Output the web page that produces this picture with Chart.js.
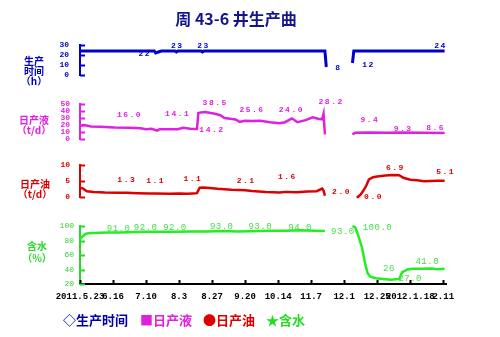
<!DOCTYPE html>
<html>
<head>
<meta charset="utf-8">
<title>周 43-6 井生产曲线</title>
<script src="https://cdn.jsdelivr.net/npm/chart.js@4.4.0/dist/chart.umd.min.js"></script>
<style>
  body { margin: 0; background: #fff; }
  #wrap { position: relative; width: 500px; height: 337px; }
  #wrap canvas { position: absolute; left: 0; top: 0; }
</style>
</head>
<body>
<div id="wrap">
  <canvas id="cHoras" width="500" height="337"></canvas>
  <canvas id="cLiquido" width="500" height="337"></canvas>
  <canvas id="cAceite" width="500" height="337"></canvas>
  <canvas id="cAgua" width="500" height="337"></canvas>
</div>
<script>
// x = dias desde 2011.5.23, una marca cada 24 dias
var dateTicks = ['2011.5.23', '6.16', '7.10', '8.3', '8.27', '9.20', '10.14', '11.7', '12.1', '12.25', '2012.1.18', '2.11'];
var tickStep = 24;

// 生产时间 (h)
var hourDays   = [0, 54, 55, 57, 59, 69, 70, 71, 88, 89, 90, 178, 179, 188, 198, 199, 265];
var hourValues = [24, 24, 22, 23, 24, 24, 23, 24, 24, 23, 24, 24, 8, null, 12, 24, 24];
var hourLabelDays = [55, 70, 89, 179, 198, 265];

// 日产液 (t/d)
var liqDays   = [0, 3, 8, 15, 25, 36, 44, 48, 52, 56, 58, 65, 71, 75, 80, 85, 86, 88, 91, 98, 102, 105, 109, 113, 116, 120, 125, 131, 138, 145, 149, 154, 158, 164, 169, 173, 176, 177, 178, 188, 198, 200, 210, 225, 232, 250, 265];
var liqValues = [19, 20, 18, 17.5, 16.5, 16.0, 15.5, 14, 14.5, 12, 14, 14, 14.1, 16, 14.5, 14.2, 37, 38, 38.5, 36, 34, 30, 29, 28, 24.5, 26, 25.6, 26, 24, 22.5, 24, 29.5, 24.0, 27, 31, 29, 28.2, 36, 6.6, null, 6.6, 9, 9.4, 9, 9.3, 9, 8.6];
var liqLabelDays = [36, 71, 85, 91, 125, 158, 176, 210, 232, 265];

// 日产油 (t/d)
var oilDays   = [0, 2, 5, 10, 18, 28, 34, 42, 50, 55, 65, 72, 78, 82, 85, 87, 90, 100, 110, 120, 125, 135, 145, 150, 158, 165, 172, 176, 177, 178, 188, 201, 202, 204, 206, 208, 210, 213, 216, 222, 227, 232, 235, 240, 245, 250, 255, 260, 265];
var oilValues = [2.8, 2.7, 1.8, 1.6, 1.4, 1.3, 1.3, 1.2, 1.1, 1.1, 1.0, 1.1, 1.0, 1.1, 1.2, 2.9, 3.0, 2.6, 2.3, 2.1, 1.9, 1.6, 1.4, 1.6, 1.5, 1.7, 1.8, 2.6, 2.0, 0.4, null, 0.0, 0.0, 0.8, 2.0, 3.5, 5.5, 6.2, 6.4, 6.7, 6.9, 6.8, 6.0, 5.4, 5.2, 4.9, 5.0, 5.1, 5.1];
var oilLabelDays = [34, 55, 82, 120, 150, 177, 201, 227, 265];

// 含水 (%)
var waterDays   = [0, 2, 4, 6, 10, 20, 28, 36, 47, 55, 69, 80, 92, 103, 115, 131, 138, 150, 160, 170, 178, 188, 198, 200, 202, 205, 207, 209, 211, 215, 220, 226, 232, 234, 238, 242, 248, 255, 260, 265];
var waterValues = [82, 86, 89, 90, 90.5, 91, 91.0, 91.5, 92.0, 92, 92.0, 92.5, 92.5, 93.0, 92.5, 93.0, 93.5, 93.5, 94.0, 93.5, 93.0, null, 100.0, 98, 88, 70, 50, 35, 30, 28, 27, 26, 27.0, 36, 40, 41, 41.0, 41.5, 40.5, 41];
var waterLabelDays = [28, 47, 69, 103, 131, 160, 178, 198, 226, 232, 248];

// desplazamiento de cada etiqueta respecto a su punto [dx, dy]
var hourLabelPos  = [[-11, 1], [1, -6], [1, -6], [12, 1], [16, 2], [-4, -5]];
var liqLabelPos   = [[0, -13], [0, -15], [15, 1], [10, -9], [0, -11], [-6, -12], [9, -17], [1, -12], [4, -4], [-9, -5]];
var oilLabelPos   = [[0, -13], [0, -12], [0, -14], [1, -9], [1, -15], [18, 1], [17, 0], [3, -7], [1, -9]];
var waterLabelPos = [[0, -4], [1, -4], [0, -4], [0, -4], [0, -4], [0, -3], [18, 1], [25, 2], [-2, -11], [11, 0], [6, -7]];

var MONO = '"Liberation Mono", "DejaVu Sans Mono", monospace';
var CJK = '"Noto Sans CJK SC", "Noto Sans", sans-serif';

function toPoints(days, values) {
    return days.map(function(d, i) { return { x: d, y: values[i] }; });
}

// marcas cortas hacia dentro en cada eje
var innerTicks = {
    id: 'innerTicks',
    afterDraw: function(chart) {
        var c = chart.ctx;
        Object.keys(chart.scales).forEach(function(k) {
            var s = chart.scales[k];
            if (!s.options.display) return;
            c.save();
            c.strokeStyle = s.options.border.color;
            c.lineWidth = 2;
            s.ticks.forEach(function(t) {
                var p = Math.round(s.getPixelForValue(t.value)) + 0.5;
                c.beginPath();
                if (s.axis === 'y') { c.moveTo(s.right, p); c.lineTo(s.right + 5, p); }
                else { c.moveTo(p, s.top); c.lineTo(p, s.top - 4); }
                c.stroke();
            });
            c.restore();
        });
    }
};

// etiquetas de valor sobre los puntos marcados
var valueLabels = {
    id: 'valueLabels',
    afterDatasetsDraw: function(chart, args, opts) {
        if (!opts.days) return;
        var c = chart.ctx;
        var ds = chart.data.datasets[0];
        var meta = chart.getDatasetMeta(0);
        c.save();
        c.fillStyle = opts.color;
        c.font = opts.font;
        if ('letterSpacing' in c) c.letterSpacing = opts.spacing || '0px';
        c.textAlign = 'center';
        c.textBaseline = 'middle';
        opts.days.forEach(function(d, i) {
            var idx = ds.data.findIndex(function(p) { return p.x === d; });
            if (idx < 0) return;
            var el = meta.data[idx];
            var v = ds.data[idx].y;
            var dec = (opts.intText && opts.intText.indexOf(d) >= 0) ? 0 : opts.dec;
            var off = opts.pos[i] || [0, 0];
            c.fillText(v.toFixed(dec), el.x + off[0], el.y + off[1]);
        });
        c.restore();
    }
};

// titulo, nombres de ejes y leyenda
var decor = {
    id: 'decor',
    afterDraw: function(chart) {
        var c = chart.ctx;
        c.save();
        c.textBaseline = 'middle';
        c.textAlign = 'center';
        c.fillStyle = '#14148c';
        c.font = 'bold 16px ' + CJK;
        c.fillText('周 43-6 井生产曲', 236, 19);

        c.font = 'bold 10px ' + CJK;
        c.fillStyle = '#0000cc';
        c.fillText('生产', 34, 61);
        c.fillText('时间', 34, 71);
        c.fillText('（h）', 34, 81);
        c.fillStyle = '#e020e0';
        c.fillText('日产液', 34, 120);
        c.fillText('（t/d）', 34, 130);
        c.fillStyle = '#dd0000';
        c.fillText('日产油', 35, 184);
        c.fillText('（t/d）', 35, 194);
        c.fillStyle = '#22dd22';
        c.fillText('含水', 37, 246);
        c.fillText('（%）', 37, 258);

        c.textAlign = 'left';
        c.font = 'bold 13px ' + CJK;
        c.fillStyle = '#0000aa';
        c.fillText('◇生产时间', 63, 320);
        c.fillStyle = '#e020e0';
        c.fillText('■日产液', 140, 320);
        c.fillStyle = '#dd0000';
        c.fillText('●日产油', 203, 320);
        c.fillStyle = '#22dd22';
        c.fillText('★含水', 266, 320);
        c.restore();
    }
};

function makePanel(id, cfg) {
    var ctx = document.getElementById(id).getContext('2d');
    return new Chart(ctx, {
        type: 'line',
        data: {
            datasets: [{
                data: toPoints(cfg.days, cfg.values),
                borderColor: cfg.color,
                borderWidth: cfg.lineWidth,
                pointRadius: 0,
                tension: 0,
                spanGaps: false,
                clip: false
            }]
        },
        options: {
            responsive: false,
            animation: false,
            layout: { padding: { left: 0, right: 54, top: cfg.top, bottom: cfg.bottom } },
            plugins: {
                legend: { display: false },
                tooltip: { enabled: false },
                valueLabels: cfg.labels
            },
            scales: {
                x: {
                    type: 'linear',
                    min: 0,
                    max: 266,
                    display: cfg.showX,
                    border: { color: '#000', width: 2 },
                    grid: { display: false, drawTicks: false },
                    afterBuildTicks: function(s) {
                        s.ticks = dateTicks.map(function(t, i) { return { value: i * tickStep }; });
                    },
                    afterFit: function(s) { s.height = 20; },
                    ticks: {
                        autoSkip: false,
                        maxRotation: 0,
                        padding: 7,
                        color: '#000',
                        font: { family: MONO, size: 9, weight: 'bold' },
                        callback: function(v, i) { return dateTicks[i]; }
                    }
                },
                y: {
                    min: cfg.min,
                    max: cfg.max,
                    border: { color: cfg.axisColor, width: 2 },
                    grid: { display: false, drawTicks: false },
                    afterFit: function(s) { s.width = 80; },
                    ticks: {
                        autoSkip: false,
                        stepSize: cfg.step,
                        padding: cfg.tickPad,
                        color: cfg.tickColor,
                        font: cfg.tickFont
                    }
                }
            }
        },
        plugins: cfg.extra ? [innerTicks, valueLabels, cfg.extra] : [innerTicks, valueLabels]
    });
}

var boldTick = { family: MONO, size: 8, weight: 'bold' };

var chartHoras = makePanel('cHoras', {
    days: hourDays, values: hourValues, color: '#0000cc', lineWidth: 3,
    top: 45, bottom: 337 - 95, showX: false,
    min: 0, max: 30, step: 10, axisColor: '#0000cc', tickColor: '#0000cc', tickPad: 11, tickFont: boldTick,
    labels: { days: hourLabelDays, pos: hourLabelPos, dec: 0, color: '#0000cc', font: 'bold 8px ' + MONO, spacing: '1.5px' }
});

var chartLiquido = makePanel('cLiquido', {
    days: liqDays, values: liqValues, color: '#e020e0', lineWidth: 2.5,
    top: 104, bottom: 337 - 159, showX: false,
    min: 0, max: 50, step: 10, axisColor: '#e020e0', tickColor: '#e020e0', tickPad: 10, tickFont: boldTick,
    labels: { days: liqLabelDays, pos: liqLabelPos, dec: 1, color: '#e020e0', font: 'bold 8px ' + MONO, spacing: '1.5px' }
});

var chartAceite = makePanel('cAceite', {
    days: oilDays, values: oilValues, color: '#dd0000', lineWidth: 2.5,
    top: 165, bottom: 337 - 217, showX: false,
    min: 0, max: 10, step: 5, axisColor: '#dd0000', tickColor: '#dd0000', tickPad: 10, tickFont: boldTick,
    labels: { days: oilLabelDays, pos: oilLabelPos, dec: 1, color: '#dd0000', font: 'bold 8px ' + MONO, spacing: '1.5px' }
});

var chartAgua = makePanel('cAgua', {
    days: waterDays, values: waterValues, color: '#22ee22', lineWidth: 2.5,
    top: 226, bottom: 33, showX: true,
    min: 20, max: 100, step: 20, axisColor: '#22dd22', tickColor: '#33cc33', tickPad: 6,
    tickFont: { family: MONO, size: 8 },
    labels: { days: waterLabelDays, pos: waterLabelPos, dec: 1, intText: [226], color: '#44dd44', font: '9px ' + MONO, spacing: '0.5px' },
    extra: decor
});
</script>
</body>
</html>
